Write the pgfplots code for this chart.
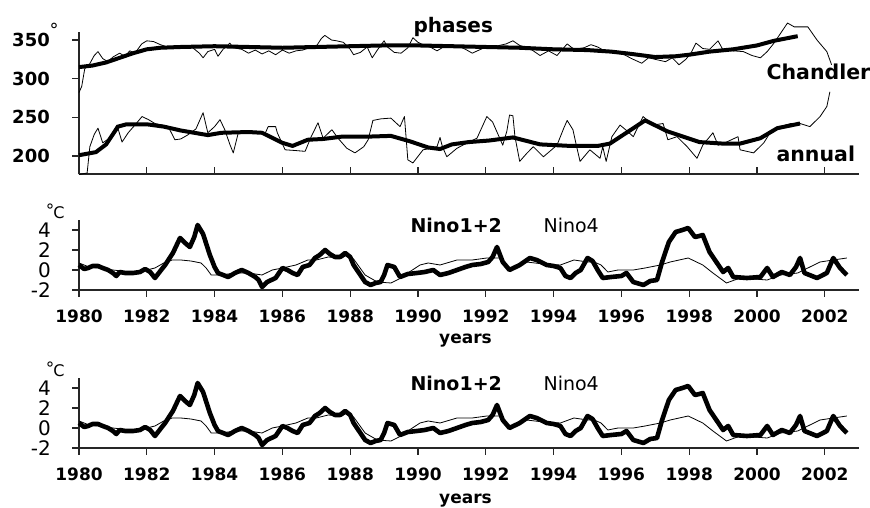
\documentclass[border=0pt]{standalone}
\usepackage{pgfplots}
\pgfplotsset{compat=1.18}
\usepackage{pgfplotstable}
\usepackage{fontspec}
\setmainfont{DejaVu Sans}

\pgfplotstableread{
x y
1980.0 315
1980.4 317
1980.8 321
1981.2 327
1981.6 333
1982.0 338
1982.4 340
1983.0 341
1984.0 342
1985.0 341
1986.0 340
1987.0 341
1988.0 342
1989.0 343
1990.0 343
1991.0 342
1992.0 341
1993.0 340
1994.0 338
1995.0 337
1995.7 335
1996.3 332
1997.0 328
1997.6 329
1998.0 331
1998.6 335
1999.3 338
2000.0 343
2000.5 349
2001.2 355
}\chandlerthick

\pgfplotstableread{
x y
1980.0 282
1980.08 290
1980.17 313
1980.3 318
1980.45 330
1980.56 335
1980.7 326
1980.85 322
1981.0 328
1981.2 333
1981.35 329
1981.5 336
1981.65 333
1981.85 345
1982.0 349
1982.2 348
1982.4 344
1982.6 341
1982.8 342
1983.0 341
1983.3 342
1983.55 333
1983.66 327
1983.8 335
1984.0 338
1984.1 329
1984.25 338
1984.45 346
1984.55 340
1984.8 338
1985.0 333
1985.2 337
1985.4 332
1985.6 336
1985.8 331
1986.0 337
1986.2 333
1986.4 336
1986.6 337
1986.8 340
1987.0 342
1987.15 352
1987.25 356
1987.45 350
1987.6 349
1987.8 347
1988.0 338
1988.1 331
1988.3 334
1988.5 341
1988.65 327
1988.8 337
1989.0 349
1989.1 341
1989.3 334
1989.5 333
1989.7 340
1989.85 353
1990.0 347
1990.2 343
1990.4 340
1990.56 336
1990.75 341
1991.0 344
1991.2 342
1991.4 338
1991.6 333
1991.8 337
1992.0 341
1992.3 342
1992.6 345
1992.8 349
1993.0 343
1993.3 339
1993.6 330
1993.85 336
1994.1 330
1994.3 340
1994.4 345
1994.6 338
1994.9 340
1995.1 344
1995.3 341
1995.5 336
1995.8 335
1996.0 333
1996.3 326
1996.6 320
1996.8 327
1997.0 325
1997.3 322
1997.5 327
1997.7 318
1997.9 325
1998.05 333
1998.2 346
1998.4 339
1998.6 338
1998.85 349
1999.0 337
1999.3 336
1999.6 335
1999.85 330
2000.1 327
2000.3 335
2000.5 346
2000.7 359
2000.9 372
2001.1 367
2001.5 367
2001.77 350
2002.06 335
2002.2 318
}\chandlerthin

\pgfplotstableread{
x y
1980.0 201
1980.5 205
1980.8 215
1981.15 238
1981.4 241
1982.0 241
1982.5 238
1983.0 233
1983.8 227
1984.2 230
1985.0 231
1985.4 230
1986.0 217
1986.3 213
1986.75 221
1987.2 222
1987.75 225
1988.5 225
1989.2 226
1989.76 219
1990.3 211
1990.65 209
1991.0 215
1991.5 218
1992.1 220
1992.8 224
1993.6 215
1994.5 213
1995.3 213
1995.66 216
1996.25 233
1996.7 246
1997.35 232
1998.3 218
1999.0 216
1999.5 216
2000.1 223
2000.6 236
2001.27 242
}\annualthick

\pgfplotstableread{
x y
1980.0 176
1980.24 178
1980.32 212
1980.45 228
1980.56 236
1980.7 217
1980.9 223
1981.12 240
1981.27 218
1981.45 230
1981.65 240
1981.86 251
1982.05 247
1982.24 242
1982.45 240
1982.63 238
1982.83 221
1983.0 222
1983.2 227
1983.45 235
1983.66 256
1983.8 230
1984.0 238
1984.16 247
1984.3 234
1984.45 215
1984.55 204
1984.7 230
1985.0 231
1985.3 229
1985.5 230
1985.58 238
1985.8 238
1985.85 230
1986.08 208
1986.4 207
1986.67 206
1986.85 225
1987.05 243
1987.2 223
1987.46 234
1987.64 223
1987.9 210
1988.14 204
1988.4 212
1988.53 221
1988.67 246
1988.9 248
1989.2 249
1989.47 238
1989.6 251
1989.7 195
1989.85 191
1990.15 208
1990.4 210
1990.56 212
1990.65 224
1990.72 212
1990.85 199
1991.15 210
1991.45 217
1991.74 223
1992.03 251
1992.2 244
1992.33 231
1992.5 214
1992.62 232
1992.7 253
1992.8 252
1992.86 225
1993.0 193
1993.2 203
1993.4 212
1993.7 199
1994.1 214
1994.3 236
1994.4 246
1994.57 234
1994.68 212
1994.78 193
1995.07 208
1995.37 197
1995.45 212
1995.55 193
1995.72 225
1995.96 240
1996.15 233
1996.35 225
1996.64 251
1996.93 240
1997.23 242
1997.37 221
1997.64 225
1997.94 212
1998.23 197
1998.4 214
1998.7 230
1998.85 214
1999.1 218
1999.44 225
1999.5 208
1999.9 204
2000.2 217
2000.4 231
2000.7 238
2001.0 242
2001.27 242
2001.56 238
2001.86 251
2002.06 264
2002.15 283
}\annualthin

\pgfplotstableread{
x y
1980.0 0.5
1980.15 0.1
1980.27 0.2
1980.4 0.4
1980.56 0.4
1980.7 0.2
1980.86 0
1981.0 -0.3
1981.1 -0.6
1981.2 -0.2
1981.36 -0.3
1981.6 -0.3
1981.8 -0.2
1981.95 0.1
1982.1 -0.2
1982.24 -0.8
1982.4 -0.1
1982.54 0.5
1982.77 1.7
1982.98 3.2
1983.13 2.7
1983.27 2.3
1983.4 3.3
1983.5 4.5
1983.66 3.6
1983.86 1.5
1984.0 0.3
1984.1 -0.3
1984.25 -0.5
1984.4 -0.7
1984.6 -0.3
1984.8 0
1985.0 -0.3
1985.2 -0.7
1985.3 -1.0
1985.4 -1.7
1985.55 -1.2
1985.8 -0.8
1986.0 0.2
1986.15 0.0
1986.3 -0.3
1986.45 -0.5
1986.6 0.3
1986.8 0.5
1986.96 1.2
1987.1 1.5
1987.26 2.0
1987.4 1.6
1987.55 1.3
1987.7 1.3
1987.85 1.7
1988.0 1.3
1988.1 0.5
1988.3 -0.5
1988.44 -1.2
1988.6 -1.5
1988.75 -1.3
1988.9 -1.2
1989.0 -0.5
1989.1 0.5
1989.3 0.3
1989.47 -0.7
1989.7 -0.4
1989.97 -0.3
1990.2 -0.2
1990.45 0.0
1990.65 -0.5
1990.9 -0.3
1991.15 0.0
1991.4 0.3
1991.6 0.5
1991.85 0.6
1992.07 0.8
1992.2 1.3
1992.33 2.3
1992.5 0.8
1992.7 0
1993.0 0.5
1993.3 1.2
1993.5 1.0
1993.8 0.5
1994.0 0.4
1994.2 0.2
1994.35 -0.6
1994.5 -0.8
1994.65 -0.3
1994.8 0.0
1995.0 1.2
1995.15 0.9
1995.3 0.0
1995.45 -0.8
1995.7 -0.7
1996.0 -0.6
1996.15 -0.3
1996.35 -1.2
1996.65 -1.5
1996.85 -1.1
1997.05 -1.0
1997.2 0.8
1997.4 2.8
1997.6 3.8
1997.8 4.0
1997.97 4.2
1998.17 3.3
1998.3 3.4
1998.4 3.5
1998.6 1.8
1998.9 0.3
1999.0 -0.2
1999.15 0.2
1999.3 -0.7
1999.7 -0.8
2000.1 -0.7
2000.3 0.2
2000.47 -0.7
2000.73 -0.2
2000.97 -0.5
2001.15 0.3
2001.27 1.2
2001.4 -0.3
2001.77 -0.8
2002.06 -0.3
2002.25 1.2
2002.45 0.2
2002.65 -0.5
}\ninoA

\pgfplotstableread{
x y
1980.0 0.7
1980.3 0.3
1980.6 0.2
1981.0 0.0
1981.5 -0.2
1982.0 0.0
1982.24 0.2
1982.5 0.7
1982.75 1.0
1983.0 1.0
1983.3 0.9
1983.6 0.7
1983.75 0.2
1983.9 -0.5
1984.2 -0.5
1984.6 -0.3
1985.0 -0.3
1985.4 -0.5
1985.7 0.0
1986.0 0.2
1986.4 0.5
1986.75 1.0
1987.0 1.0
1987.35 1.3
1987.76 1.2
1987.9 1.5
1988.1 1.1
1988.44 -0.5
1988.8 -1.2
1989.2 -1.3
1989.5 -0.8
1989.7 -0.3
1990.06 0.5
1990.3 0.7
1990.65 0.5
1991.15 1.0
1991.6 1.0
1992.03 1.2
1992.4 1.2
1992.7 0.0
1993.2 0.8
1993.7 0.6
1994.2 0.5
1994.6 1.0
1995.0 0.8
1995.2 0.8
1995.4 0.5
1995.6 -0.2
1995.9 0.0
1996.35 0.0
1996.7 0.2
1997.15 0.5
1997.44 0.8
1997.97 1.2
1998.4 0.5
1998.7 -0.3
1999.1 -1.3
1999.5 -0.8
2000.3 -1.0
2000.7 -0.5
2001.2 -0.3
2001.5 0.2
2001.86 0.8
2002.25 1.0
2002.65 1.2
}\ninoB

\pgfplotsset{
  panel/.style={
    scale only axis, width=779.7pt,
    xmin=1980, xmax=2003,
    axis x line=bottom, axis y line=left,
    axis line style={-, line width=1.1pt, black!85},
    tick style={line width=1.1pt, black!85},
    major tick length=7pt, tick align=outside,
    clip=false,
    xtick={1980,1982,...,2002},
  },
  thick line/.style={black, line width=4pt, line join=round},
  thin line/.style={black, line width=0.8pt, line join=round},
  nino panel/.style={
    panel, height=70pt, ymin=-2, ymax=5,
    ytick={-2,0,2,4}, yticklabels={-2,0,2,4},
    xticklabels={1980,1982,1984,1986,1988,1990,1992,1994,1996,1998,2000,2002},
    xticklabel style={font=\bfseries\fontsize{17}{17}\selectfont, yshift=-9pt},
    yticklabel style={font=\fontsize{20}{20}\selectfont, xshift=-21pt, inner sep=0pt},
  },
}

\begin{document}
\begin{tikzpicture}[x=1pt,y=1pt]
\path[use as bounding box] (0,0) rectangle (870,508);

% top panel
\begin{axis}[panel, at={(79pt,334pt)}, anchor=south west,
  height=142pt, ymin=176.7, ymax=360.4,
  ytick={200,250,300,350}, yticklabels={200,250,300,350},
  xticklabels={},
  xtick style={yshift=7pt},
  yticklabel style={font=\bfseries\fontsize{18}{18}\selectfont, xshift=-22pt, inner sep=0pt}]
\addplot[thin line] table {\chandlerthin};
\addplot[thick line] table {\chandlerthick};
\addplot[thin line] table {\annualthin};
\addplot[thick line] table {\annualthick};
\end{axis}

% middle panel
\begin{axis}[nino panel, at={(79pt,218pt)}, anchor=south west]
\addplot[thin line] table {\ninoB};
\addplot[black, line width=4.6pt, line join=round] table {\ninoA};
\end{axis}

% bottom panel
\begin{axis}[nino panel, at={(79pt,60pt)}, anchor=south west]
\addplot[thin line] table {\ninoB};
\addplot[black, line width=4.6pt, line join=round] table {\ninoA};
\end{axis}

% labels
\node[anchor=base, font=\fontsize{18}{18}\selectfont] at (54,471) {°};
\node[anchor=base west, font=\bfseries\fontsize{20}{20}\selectfont] at (410,475) {phases};
\node[anchor=base west, font=\bfseries\fontsize{20.5}{20.5}\selectfont] at (763,428) {Chandler};
\node[anchor=base west, font=\bfseries\fontsize{20.5}{20.5}\selectfont] at (773,346) {annual};

\node[anchor=base, font=\fontsize{17}{17}\selectfont] at (50,291) {°};
\node[anchor=base, font=\fontsize{16}{16}\selectfont] at (59,289) {C};
\node[anchor=base west, font=\bfseries\fontsize{19}{19}\selectfont] at (407,275) {Nino1+2};
\node[anchor=base west, font=\fontsize{19}{19}\selectfont] at (540,275) {Nino4};
\node[anchor=base, font=\bfseries\fontsize{17}{17}\selectfont] at (465.5,164) {years};

\node[anchor=base, font=\fontsize{17}{17}\selectfont] at (50,133) {°};
\node[anchor=base, font=\fontsize{16}{16}\selectfont] at (59,131) {C};
\node[anchor=base west, font=\bfseries\fontsize{19}{19}\selectfont] at (407,117) {Nino1+2};
\node[anchor=base west, font=\fontsize{19}{19}\selectfont] at (540,117) {Nino4};
\node[anchor=base, font=\bfseries\fontsize{17}{17}\selectfont] at (465.5,4) {years};
\end{tikzpicture}
\end{document}
